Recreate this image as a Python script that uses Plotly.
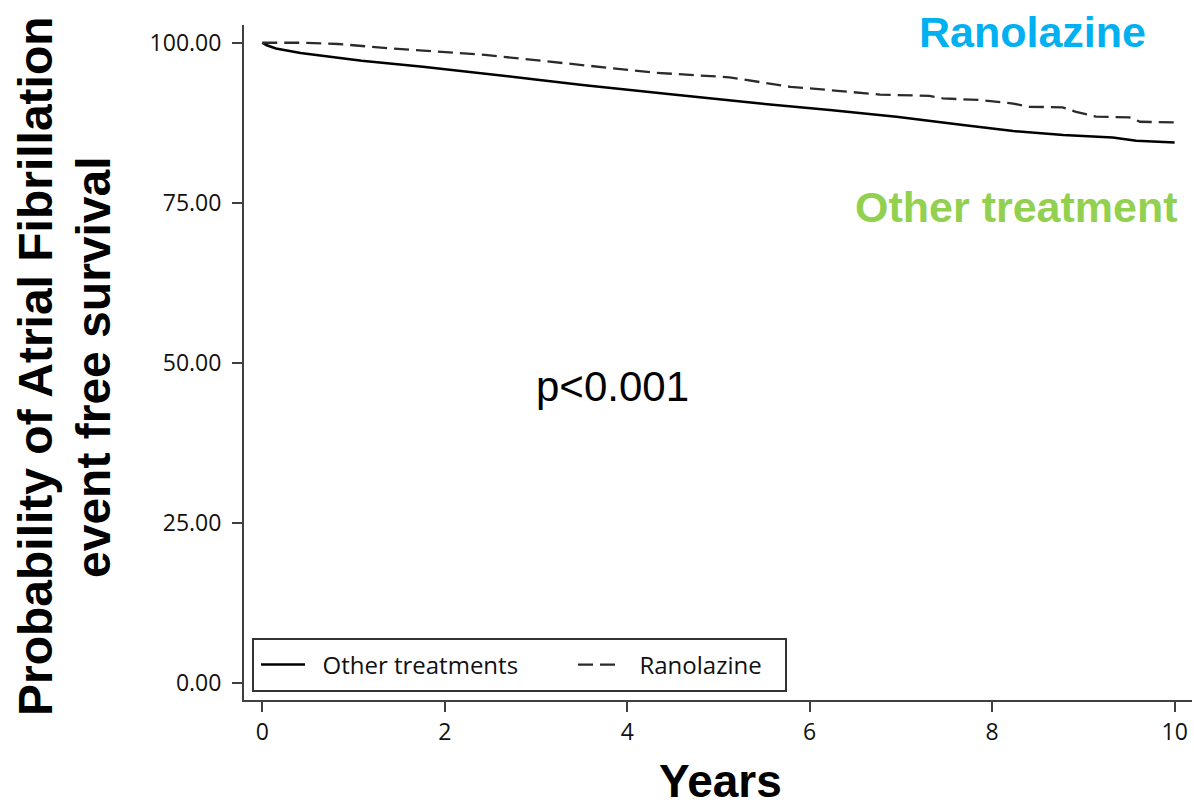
import plotly.graph_objects as go

# ---- data ----
other_years = [0, 0.05, 0.15, 0.42, 1.09, 1.76, 2.97, 3.51, 4.45, 5.46, 6.22, 6.95, 7.68, 8.23, 8.78, 9.32, 9.58, 10.0]
other_surv = [100, 99.6, 99.1, 98.4, 97.2, 96.25, 94.3, 93.4, 92.0, 90.5, 89.5, 88.45, 87.15, 86.2, 85.6, 85.2, 84.7, 84.4]

rano_years = [0, 0.4, 0.83, 1.43, 2.44, 3.38, 4.32, 5.12, 5.79, 6.22, 6.77, 7.31, 7.46, 7.86, 8.23, 8.41, 8.77, 8.92, 9.14, 9.5, 9.62, 10.0]
rano_surv = [100, 100, 99.8, 99.1, 98.1, 96.7, 95.3, 94.6, 93.1, 92.6, 91.9, 91.7, 91.3, 91.05, 90.5, 90.0, 89.9, 89.2, 88.45, 88.35, 87.65, 87.55]

x_ticks = [0, 2, 4, 6, 8, 10]
y_ticks = [0, 25, 50, 75, 100]
y_tick_labels = [f"{v:.2f}" for v in y_ticks]

series_names = ["Other treatments", "Ranolazine"]

# ---- layout geometry (pixels) ----
W, H = 1194, 808
ML, MR, MT, MB = 244, 2, 25, 108
PW, PH = W - ML - MR, H - MT - MB


def px(xp):
    return (xp - ML) / PW


def py(yp):
    return (H - MB - yp) / PH


gap = "\u00a0\u00a0"  # small gap between legend sample line and its label

fig = go.Figure()
fig.add_trace(go.Scatter(
    x=other_years, y=other_surv, mode="lines", name=gap + series_names[0],
    line=dict(color="#000000", width=2.5),
))
fig.add_trace(go.Scatter(
    x=rano_years, y=rano_surv, mode="lines", name=gap + series_names[1],
    line=dict(color="#2b2b2b", width=2.3, dash="15px,7px"),
))

axis_col = "#404040"
tick_font = dict(family="Open Sans", size=23, color="#111111")

fig.update_layout(
    width=W, height=H, autosize=False,
    margin=dict(l=ML, r=MR, t=MT, b=MB, pad=0),
    paper_bgcolor="white", plot_bgcolor="white",
    showlegend=True,
    legend=dict(
        orientation="h", x=px(256), y=py(665), xanchor="left", yanchor="middle",
        bgcolor="rgba(0,0,0,0)", borderwidth=0,
        font=dict(family="Open Sans", size=24, color="#111111"),
        itemwidth=44, entrywidth=258, entrywidthmode="pixels",
    ),
    xaxis=dict(
        range=[-0.2, 10.19], tickvals=x_ticks, ticktext=[str(v) for v in x_ticks],
        showline=True, linecolor=axis_col, linewidth=2,
        ticks="outside", ticklen=10, tickwidth=2, tickcolor=axis_col,
        showgrid=False, zeroline=False, tickfont=tick_font,
    ),
    yaxis=dict(
        range=[-2.7, 102.77], tickvals=y_ticks, ticktext=y_tick_labels,
        showline=True, linecolor=axis_col, linewidth=2,
        ticks="outside", ticklen=10, tickwidth=2, tickcolor=axis_col,
        showgrid=False, zeroline=False, tickfont=tick_font,
        ticklabelstandoff=6,
    ),
    shapes=[dict(
        type="rect", xref="paper", yref="paper",
        x0=px(253), x1=px(786), y0=py(691), y1=py(639),
        line=dict(color="#333333", width=2), fillcolor="rgba(0,0,0,0)",
    )],
)

ann = [
    dict(text="Ranolazine", x=px(1032), y=py(32),
         font=dict(family="Liberation Sans", size=43, color="#00B0F0", weight="bold")),
    dict(text="Other treatment", x=px(1016), y=py(207),
         font=dict(family="Liberation Sans", size=43, color="#92D050", weight="bold")),
    dict(text="p<0.001", x=px(612), y=py(386),
         font=dict(family="Liberation Sans", size=42, color="#000000")),
    dict(text="Years", x=px(720), y=py(781),
         font=dict(family="Liberation Sans", size=46, color="#000000", weight="bold")),
    dict(text="Probability of Atrial Fibrillation", x=px(35), y=py(366), textangle=-90,
         font=dict(family="Liberation Sans", size=48, color="#000000", weight="bold")),
    dict(text="event free survival", x=px(94), y=py(367), textangle=-90,
         font=dict(family="Liberation Sans", size=48, color="#000000", weight="bold")),
]
for a in ann:
    fig.add_annotation(xref="paper", yref="paper", showarrow=False,
                       xanchor="center", yanchor="middle", **a)

fig.write_html(
    "out.html",
    config={"displayModeBar": False},
    post_script="document.body.style.margin='0px';document.body.style.overflow='hidden';",
)
